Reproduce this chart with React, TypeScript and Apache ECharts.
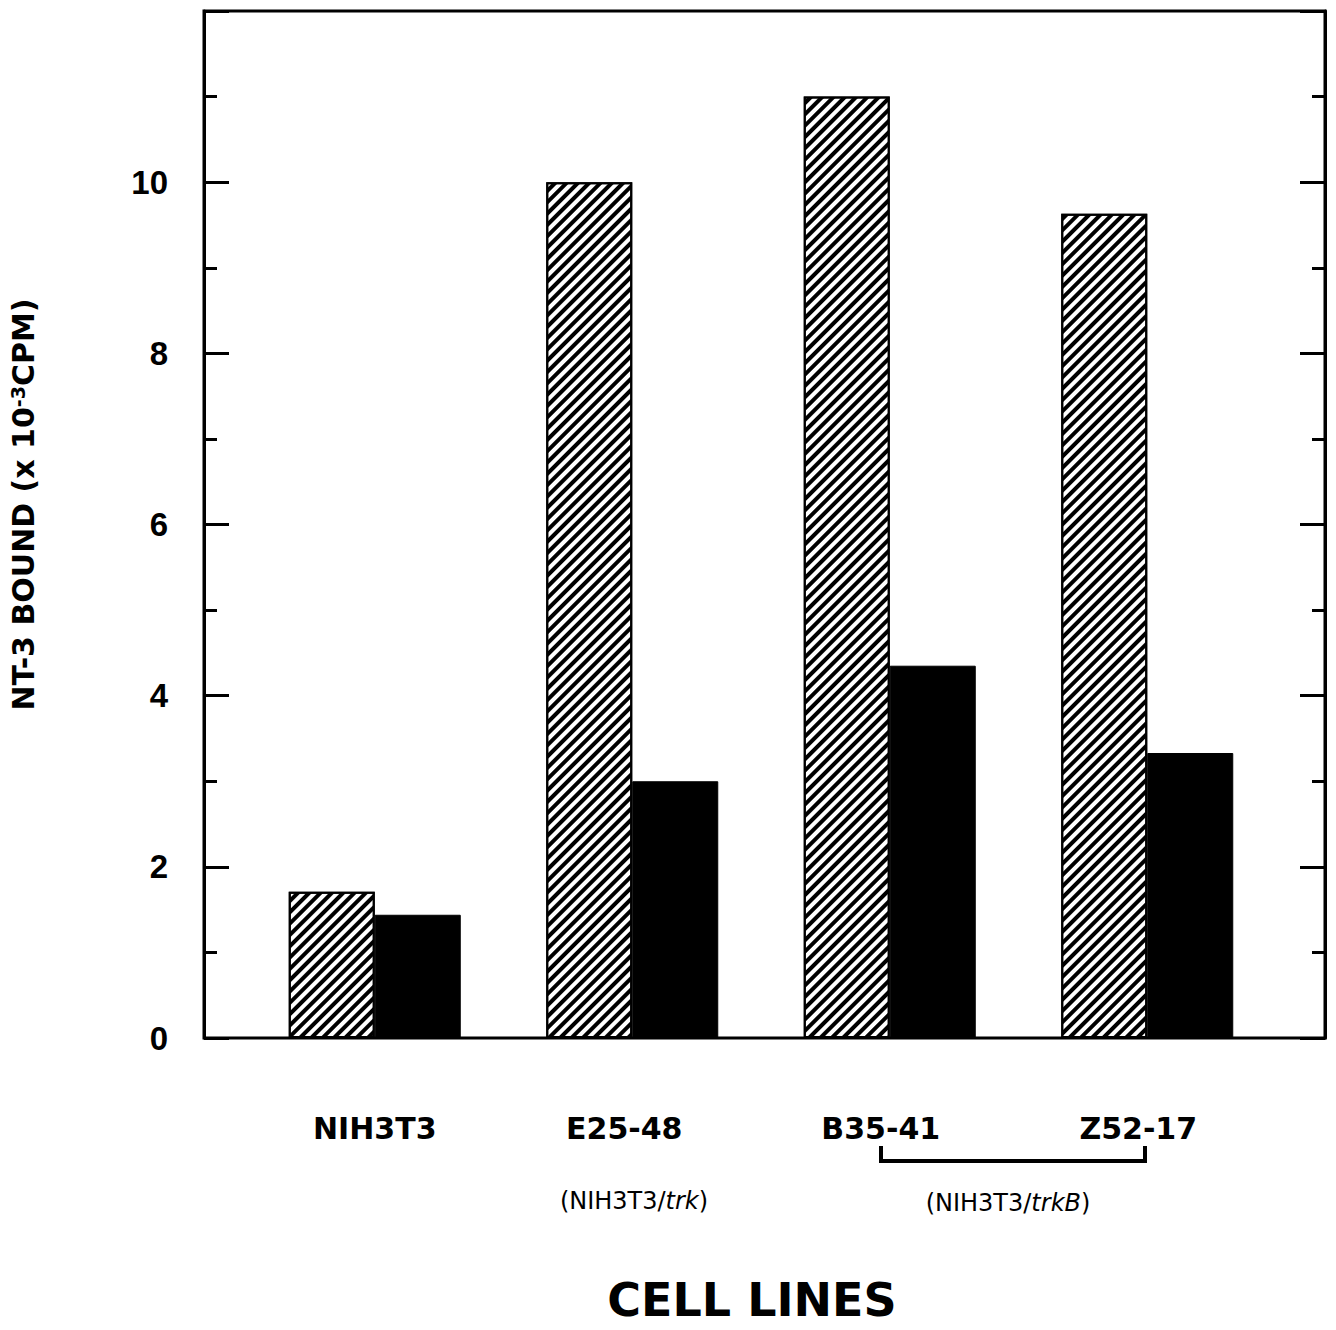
import React, { useEffect, useRef } from "react";
import * as echarts from "echarts";

const categories = ["NIH3T3", "E25-48", "B35-41", "Z52-17"];
const hatchedValues = [1.71, 10.0, 11.0, 9.63];
const solidValues = [1.44, 3.0, 4.35, 3.33];
const yMin = 0;
const yMax = 12;
const yInterval = 2;
const yAxisTitle = "NT-3 BOUND (x 10{sup|-3}CPM)";
const xAxisTitle = "CELL LINES";
const subLabelTrk = "(NIH3T3/{i|trk})";
const subLabelTrkB = "(NIH3T3/{i|trkB})";

// layout only: leftward nudge (px) of each category label
const labelNudge = [0, 8, 9, 9];

const H = 1330;
const W = 1336;

export default function App() {
  const ref = useRef<HTMLDivElement>(null);
  useEffect(() => {
    if (!ref.current) return;
    const chart = echarts.init(ref.current, undefined, { renderer: "svg" });
    const frame = { left: 199, right: 11, top: 11, bottom: 292 };
    const yCommon = {
      type: "value",
      min: yMin,
      max: yMax,
      interval: yInterval,
      splitLine: { show: false },
    };
    const catData = categories.map((c, i) => ({
      value: c,
      textStyle: { padding: [0, 2 * labelNudge[i], 0, 0] },
    }));
    chart.setOption({
      animation: false,
      backgroundColor: "#fff",
      grid: [
        { ...frame, show: true, borderColor: "#000", borderWidth: 3, backgroundColor: "transparent" },
        { left: 246, right: 60, top: 11, bottom: 292 },
      ],
      xAxis: [
        { type: "value", gridIndex: 0, show: false, min: 0, max: 1 },
        {
          type: "category",
          gridIndex: 1,
          data: catData,
          axisLine: { show: false },
          axisTick: { show: false },
          axisLabel: {
            margin: 75,
            fontFamily: "DejaVu Sans",
            fontWeight: "bold",
            fontSize: 30,
            color: "#000",
          },
        },
      ],
      yAxis: [
        {
          ...yCommon,
          gridIndex: 0,
          position: "left",
          name: yAxisTitle,
          nameLocation: "middle",
          nameGap: 166,
          nameTextStyle: {
            fontFamily: "DejaVu Sans",
            fontWeight: "bold",
            fontSize: 30,
            color: "#000",
            padding: [0, 0, 0, 40],
            rich: {
              sup: { fontFamily: "DejaVu Sans", fontWeight: "bold", fontSize: 19, verticalAlign: "top", color: "#000" },
            },
          },
          axisLine: { show: true, lineStyle: { color: "#000", width: 3 } },
          axisTick: { show: true, inside: true, length: 25, lineStyle: { color: "#000", width: 3 } },
          minorTick: { show: true, splitNumber: 2, length: 13, lineStyle: { color: "#000", width: 3 } },
          axisLabel: {
            margin: 36,
            fontFamily: "Liberation Sans",
            fontWeight: "bold",
            fontSize: 33,
            color: "#000",
            formatter: (v: number) => (v === yMax ? "" : String(v)),
          },
        },
        {
          ...yCommon,
          gridIndex: 0,
          position: "right",
          axisLine: { show: true, lineStyle: { color: "#000", width: 3 } },
          axisTick: { show: true, inside: true, length: 25, lineStyle: { color: "#000", width: 3 } },
          minorTick: { show: true, splitNumber: 2, length: 13, lineStyle: { color: "#000", width: 3 } },
          axisLabel: { show: false },
        },
        { ...yCommon, gridIndex: 1, show: false },
      ],
      series: [
        {
          type: "bar",
          xAxisIndex: 1,
          yAxisIndex: 2,
          data: hatchedValues,
          barWidth: 86,
          barGap: "0%",
          itemStyle: {
            color: "#fff",
            borderColor: "#000",
            borderWidth: 2,
            decal: {
              symbol: "rect",
              symbolSize: 1,
              dashArrayX: [1, 0],
              dashArrayY: [4, 4],
              rotation: -Math.PI / 4,
              color: "#000",
            },
          },
        },
        {
          type: "bar",
          xAxisIndex: 1,
          yAxisIndex: 2,
          data: solidValues,
          barWidth: 86,
          barGap: "0%",
          itemStyle: { color: "#000", borderColor: "#000", borderWidth: 1 },
        },
      ],
      graphic: [
        {
          type: "text",
          x: 634,
          y: 1201,
          style: {
            text: subLabelTrk,
            fontFamily: "DejaVu Sans",
            fontSize: 24,
            fill: "#000",
            align: "center",
            verticalAlign: "middle",
            rich: { i: { fontFamily: "DejaVu Sans", fontStyle: "italic", fontSize: 24, fill: "#000" } },
          },
        },
        {
          type: "text",
          x: 1008,
          y: 1203,
          style: {
            text: subLabelTrkB,
            fontFamily: "DejaVu Sans",
            fontSize: 24,
            fill: "#000",
            align: "center",
            verticalAlign: "middle",
            rich: { i: { fontFamily: "DejaVu Sans", fontStyle: "italic", fontSize: 24, fill: "#000" } },
          },
        },
        {
          type: "polyline",
          shape: { points: [[881, 1146], [881, 1161], [1145, 1161], [1145, 1146]] },
          style: { stroke: "#000", lineWidth: 4, fill: "none" },
        },
        {
          type: "text",
          x: 752,
          y: 1300,
          style: {
            text: xAxisTitle,
            fontFamily: "DejaVu Sans",
            fontWeight: "bold",
            fontSize: 46,
            fill: "#000",
            align: "center",
            verticalAlign: "middle",
          },
        },
      ],
    });
    return () => chart.dispose();
  }, []);
  return <div ref={ref} style={{ width: W, height: H, position: "absolute", left: 0, top: 0 }} />;
}
